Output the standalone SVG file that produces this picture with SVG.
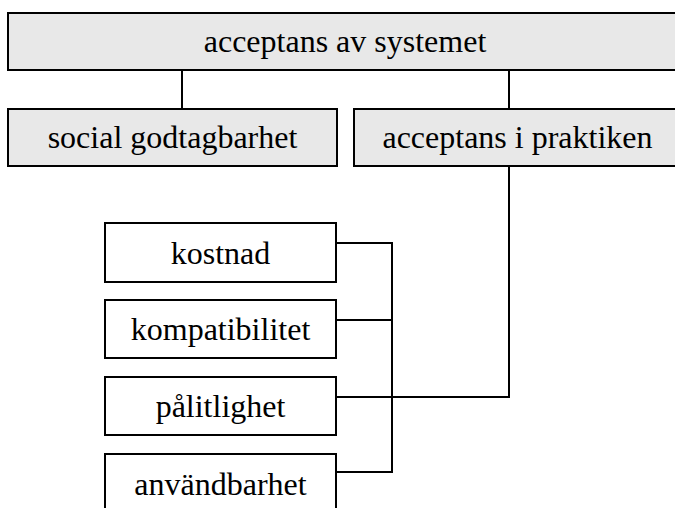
<svg xmlns="http://www.w3.org/2000/svg" width="675" height="508" viewBox="0 0 675 508">
<style>
.box{stroke:#000;stroke-width:2}
.g{fill:#e8e8e8}
.w{fill:#fff}
.t{font-family:'Liberation Serif','Times New Roman','DejaVu Serif',serif;font-size:32px;fill:#000;text-anchor:middle}
#connectors path{fill:none;stroke:#000;stroke-width:2}
</style>
<rect width="675" height="508" fill="#fff"/>
<g id="connectors">
<path d="M182 70V109"/>
<path d="M509 70V109"/>
<path d="M509 166V397H336"/>
<path d="M336 243H392V472H336"/>
<path d="M336 320H392"/>
</g>
<g id="n-system"><rect class="box g" x="8" y="13" width="674" height="57"/><text class="t" font-family="Liberation Serif, serif" x="345" y="52">acceptans av systemet</text></g>
<g id="n-social"><rect class="box g" x="8" y="109" width="329" height="57"/><text class="t" font-family="Liberation Serif, serif" x="172.5" y="148">social godtagbarhet</text></g>
<g id="n-praktik"><rect class="box g" x="354" y="109" width="328" height="57"/><text class="t" font-family="Liberation Serif, serif" x="517.5" y="148">acceptans i praktiken</text></g>
<g id="n-kostnad"><rect class="box w" x="105" y="223" width="231" height="59"/><text class="t" font-family="Liberation Serif, serif" x="220.5" y="264">kostnad</text></g>
<g id="n-kompat"><rect class="box w" x="105" y="300" width="231" height="58"/><text class="t" font-family="Liberation Serif, serif" x="220.5" y="340">kompatibilitet</text></g>
<g id="n-palit"><rect class="box w" x="105" y="377" width="231" height="58"/><text class="t" font-family="Liberation Serif, serif" x="220.5" y="417">pålitlighet</text></g>
<g id="n-anvand"><rect class="box w" x="105" y="454" width="231" height="60"/><text class="t" font-family="Liberation Serif, serif" x="220.5" y="495">användbarhet</text></g>
</svg>
